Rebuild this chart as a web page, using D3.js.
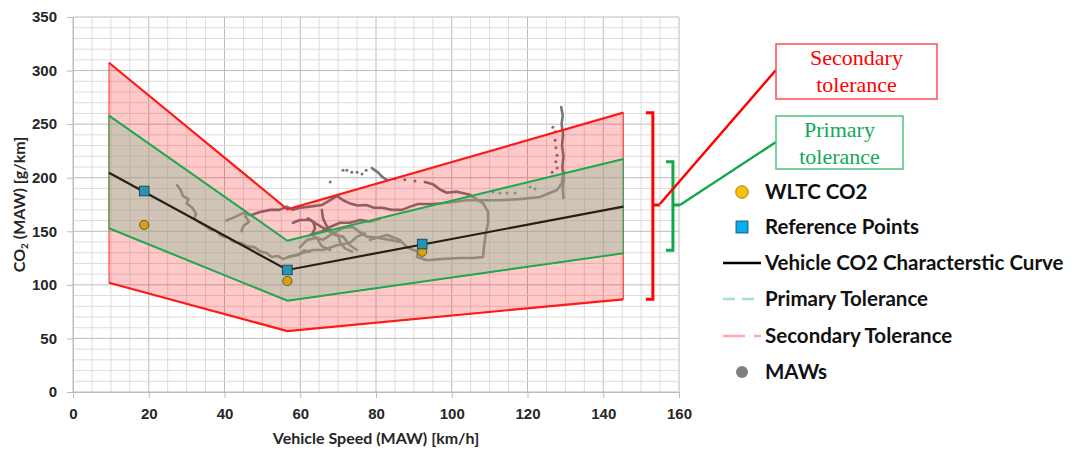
<!DOCTYPE html>
<html>
<head>
<meta charset="utf-8">
<script src="https://cdn.jsdelivr.net/npm/d3@7/dist/d3.min.js"></script>
<style>
  body { margin: 0; background: #fff; }
  svg { display: block; font-family: Lato, "Open Sans", sans-serif; }
</style>
</head>
<body>
<svg id="chart"></svg>
<script>
// band corners: left edge, kink, right edge
const bandSpeed = [9.5, 56.6, 145.3];
const co2Curve = [204.7, 113.9, 173.0];
const primaryUpper = [257.9, 141.2, 217.5];
const primaryLower = [152.8, 85.2, 129.4];
const secondaryUpper = [307.3, 170.5, 260.7];
const secondaryLower = [102.0, 56.9, 86.5];

const refSpeed = [18.8, 56.6, 92.2];
const refCo2 = [187.6, 113.9, 138.1];
const wltcCo2 = [155.9, 103.6, 130.9];

const mawTraces = [
    [[27.5, 193], [28.5, 188], [29.0, 183], [30.5, 180], [30.0, 176], [31.5, 172], [32.5, 166], [32.0, 162], [33.5, 158], [35.0, 155], [36.5, 151], [38.0, 150], [39.0, 146], [41.0, 144], [42.5, 140], [44.5, 139], [46.0, 136], [48.0, 135], [49.5, 131], [51.0, 130], [52.5, 126], [54.0, 127], [55.5, 124], [57.5, 127], [59.5, 128], [61.0, 132], [62.5, 131]],
    [[40.5, 160], [42.5, 163], [44.9, 167], [47.0, 165], [49.4, 168], [52.0, 170], [54.5, 170], [56.5, 173], [58.0, 170], [60.0, 172], [62.5, 173], [65.7, 174.5], [67.9, 179], [69.7, 183], [71.3, 179], [73.1, 176], [75.2, 174], [77.4, 174.5], [79.5, 172], [81.6, 172], [84.2, 170], [86.9, 170], [89.0, 173], [91.1, 175.5], [95.0, 175.5], [98.2, 176.4], [104.0, 179], [109.3, 179], [112.7, 179], [118.0, 180], [123.3, 182], [125.9, 185.7], [127.8, 188.5], [129.1, 195], [129.4, 205]],
    [[45.5, 164], [46.5, 159], [45.0, 155], [44.5, 150]],
    [[78.9, 209], [80.5, 205], [81.9, 200], [82.9, 198]],
    [[92.9, 196], [95.0, 194], [96.9, 189], [98.7, 186], [101.4, 187], [104.8, 184], [108.3, 176], [109.6, 168], [109.6, 158], [109.0, 148], [108.5, 135], [108.3, 126], [105.6, 125], [102.2, 125], [96.9, 124], [93.5, 123], [90.8, 126], [91.1, 131]],
    [[128.9, 266], [129.3, 258], [129.0, 250], [129.4, 240], [129.1, 230], [129.5, 220], [129.2, 210], [129.6, 200], [129.3, 190], [129.5, 181]],
    [[59.9, 135], [61.8, 142], [64.4, 144], [66.0, 142], [68.6, 148], [71.3, 153], [73.9, 154], [75.8, 149], [77.6, 145], [80.3, 144], [83.7, 142], [86.3, 140]],
    [[57.3, 126], [60.7, 130], [63.4, 132.5], [66.0, 132.5], [69.7, 137], [73.1, 139], [75.0, 145], [77.1, 148]],
    [[62.6, 146.5], [65.2, 149], [67.9, 154], [70.5, 158], [73.1, 158], [75.8, 160.5], [78.4, 159], [81.1, 162]],
    [[65.7, 170], [66.0, 162], [67.1, 154], [68.6, 149], [70.0, 146.5], [70.5, 140], [71.8, 134], [73.7, 131]],
    [[62.0, 162], [63.4, 159], [63.9, 153], [63.1, 147], [64.7, 142], [65.7, 136], [67.9, 132.5]],
    [[58.1, 158], [59.9, 160.5], [62.6, 160.5], [64.7, 156], [67.1, 151], [69.2, 146.5], [71.3, 145], [73.1, 137], [75.0, 132.5]],
    [[78.4, 142], [82.9, 146.5], [86.3, 142], [88.2, 135], [89.8, 132.5], [91.6, 131]]
];
const mawDots = [
    [67.9, 196], [71.3, 207], [72.3, 207], [73.6, 205], [75.0, 205], [76.3, 203.5], [77.4, 207],
    [85.0, 199], [87.6, 198], [90.3, 197], [110.9, 186.7], [112.7, 185.7], [114.6, 185.7], [116.7, 185.7],
    [120.7, 191.3], [122.0, 189.5], [127.3, 235], [127.5, 228], [127.8, 221], [127.5, 215], [127.8, 209],
    [126.7, 247], [127.3, 243], [126.5, 205]
];

const xTicks = [0, 20, 40, 60, 80, 100, 120, 140, 160];
const yTicks = [0, 50, 100, 150, 200, 250, 300, 350];

const legendItems = ['WLTC CO2', 'Reference Points', 'Vehicle CO2 Characterstic Curve',
    'Primary Tolerance', 'Secondary Tolerance', 'MAWs'];

const W = 1072, H = 449;
const margin = {top: 17, left: 73};
const width = 606, height = 375;

const svg = d3.select('#chart').attr('width', W).attr('height', H);
svg.append('rect').attr('width', W).attr('height', H).attr('fill', '#fff');

const x = d3.scaleLinear().domain([0, 160]).range([margin.left, margin.left + width]);
const y = d3.scaleLinear().domain([0, 350]).range([margin.top + height, margin.top]);

// gridlines
const grid = svg.append('g');
grid.selectAll('.vminor').data(d3.range(0, 161, 5)).enter().append('line')
    .attr('x1', d => x(d)).attr('x2', d => x(d))
    .attr('y1', y(350)).attr('y2', y(0))
    .attr('stroke', d => (d % 20 === 0 ? '#bcbcbc' : '#dcdcdc')).attr('stroke-width', 1);
grid.selectAll('.hminor').data(d3.range(0, 351, 10)).enter().append('line')
    .attr('x1', x(0)).attr('x2', x(160))
    .attr('y1', d => y(d)).attr('y2', d => y(d))
    .attr('stroke', d => (d % 50 === 0 ? '#bcbcbc' : '#dcdcdc')).attr('stroke-width', 1);

// axes
svg.append('g')
    .attr('transform', `translate(0,${y(0)})`)
    .call(d3.axisBottom(x).tickValues(xTicks).tickSize(6).tickPadding(10))
    .call(g => g.select('.domain').attr('stroke', '#bcbcbc'))
    .call(g => g.selectAll('.tick line').attr('stroke', '#bcbcbc'))
    .call(g => g.selectAll('text').attr('font-size', 15).attr('font-weight', 700).attr('fill', '#262626'));
svg.append('g')
    .attr('transform', `translate(${x(0)},0)`)
    .call(d3.axisLeft(y).tickValues(yTicks).tickSize(6).tickPadding(10))
    .call(g => g.select('.domain').attr('stroke', '#bcbcbc'))
    .call(g => g.selectAll('.tick line').attr('stroke', '#bcbcbc'))
    .call(g => g.selectAll('text').attr('font-size', 15).attr('font-weight', 700).attr('fill', '#262626'));

// MAW traces (under the bands so they pick up the tint)
const line = d3.line().x(d => x(d[0])).y(d => y(d[1]));
svg.append('g').selectAll('path').data(mawTraces).enter().append('path')
    .attr('d', line)
    .attr('fill', 'none')
    .attr('stroke', '#77777a')
    .attr('stroke-width', 2.6)
    .attr('stroke-linejoin', 'round')
    .attr('stroke-linecap', 'round');
svg.append('g').selectAll('circle').data(mawDots).enter().append('circle')
    .attr('cx', d => x(d[0])).attr('cy', d => y(d[1])).attr('r', 1.5)
    .attr('fill', '#77777a');

// tolerance bands
const band = (up, lo) => bandSpeed.map((s, i) => [s, up[i]])
    .concat(bandSpeed.map((s, i) => [s, lo[i]]).reverse());
svg.append('path')
    .attr('d', line(band(secondaryUpper, secondaryLower)) + 'Z')
    .attr('fill', '#ff0000').attr('fill-opacity', 0.21)
    .attr('stroke', '#ff3030').attr('stroke-width', 1);
svg.append('path')
    .attr('d', line(band(primaryUpper, primaryLower)) + 'Z')
    .attr('fill', '#94bea0').attr('fill-opacity', 0.45)
    .attr('stroke', '#22a852').attr('stroke-width', 1);

const pairs = ys => bandSpeed.map((s, i) => [s, ys[i]]);
[secondaryUpper, secondaryLower].forEach(s => {
    svg.append('path').attr('d', line(pairs(s)))
        .attr('fill', 'none').attr('stroke', '#ff1a1a').attr('stroke-width', 2.2);
});
[primaryUpper, primaryLower].forEach(s => {
    svg.append('path').attr('d', line(pairs(s)))
        .attr('fill', 'none').attr('stroke', '#1fa84f').attr('stroke-width', 2);
});
svg.append('path').attr('d', line(pairs(co2Curve)))
    .attr('fill', 'none').attr('stroke', '#231f1a').attr('stroke-width', 2.2);

// WLTC and reference points
svg.append('g').selectAll('circle').data(refSpeed).enter().append('circle')
    .attr('cx', d => x(d)).attr('cy', (d, i) => y(wltcCo2[i])).attr('r', 4.6)
    .attr('fill', '#d9a212').attr('stroke', '#4e3f14').attr('stroke-width', 0.8);
svg.append('g').selectAll('rect').data(refSpeed).enter().append('rect')
    .attr('x', d => x(d) - 4.8).attr('y', (d, i) => y(refCo2[i]) - 4.8)
    .attr('width', 9.6).attr('height', 9.6)
    .attr('fill', '#2595b5').attr('stroke', '#1c3f4c').attr('stroke-width', 0.9);

// axis titles
svg.append('text')
    .attr('x', x(80)).attr('y', 444)
    .attr('text-anchor', 'middle')
    .attr('font-size', 16).attr('font-weight', 700).attr('fill', '#262626')
    .text('Vehicle Speed (MAW) [km/h]');
const yTitle = svg.append('text')
    .attr('transform', `translate(25,${y(175)}) rotate(-90)`)
    .attr('text-anchor', 'middle')
    .attr('font-size', 16).attr('font-weight', 700).attr('fill', '#262626');
yTitle.append('tspan').text('CO');
yTitle.append('tspan').attr('font-size', 10).attr('dy', 3).text('2');
yTitle.append('tspan').attr('dy', -3).text(' (MAW) [g/km]');

// tolerance brackets + callouts
function bracket(xPos, top, bottom, colour) {
    const x0 = x(xPos), hook = 7;
    const mid = 205;
    svg.append('path')
        .attr('d', `M${x0 - hook},${y(top)}H${x0}V${y(bottom)}H${x0 - hook}M${x0},${mid}H${x0 + 7}`)
        .attr('fill', 'none').attr('stroke', colour).attr('stroke-width', 3);
    return [x0 + 7, mid];
}
const redTip = bracket(153.1, secondaryUpper[2], secondaryLower[2], '#ff0000');
const greenTip = bracket(158.4, primaryUpper[2] - 2.5, primaryLower[2] + 3, '#13a84a');

svg.append('line')
    .attr('x1', redTip[0]).attr('y1', redTip[1] - 1).attr('x2', 776).attr('y2', 70)
    .attr('stroke', '#ff0000').attr('stroke-width', 2.5);
svg.append('line')
    .attr('x1', greenTip[0]).attr('y1', greenTip[1]).attr('x2', 776).attr('y2', 142)
    .attr('stroke', '#13a84a').attr('stroke-width', 2.5);

function callout(x0, y0, w, h, lines, colour, border) {
    svg.append('rect')
        .attr('x', x0).attr('y', y0).attr('width', w).attr('height', h)
        .attr('fill', '#fff').attr('stroke', border).attr('stroke-width', 1.5);
    svg.append('g').selectAll('text').data(lines).enter().append('text')
        .attr('x', x0 + w / 2).attr('y', (d, i) => y0 + 21 + i * 27)
        .attr('text-anchor', 'middle')
        .attr('font-family', '"Liberation Serif", "DejaVu Serif", serif')
        .attr('font-size', 22)
        .attr('fill', colour)
        .text(d => d);
}
callout(776, 44, 161, 55, ['Secondary', 'tolerance'], '#ff0000', '#ff4d4d');
callout(776, 116, 127, 53, ['Primary', 'tolerance'], '#11a85a', '#4cc47c');

// legend
const legend = svg.append('g');
const rowY = [192, 227, 263, 299, 336, 372];
legend.selectAll('text').data(legendItems).enter().append('text')
    .attr('x', 765).attr('y', (d, i) => rowY[i]).attr('dy', '0.36em')
    .attr('font-size', 20.5).attr('font-weight', 700).attr('fill', '#111')
    .text(d => d);
legend.append('circle').attr('cx', 742).attr('cy', rowY[0]).attr('r', 6.3)
    .attr('fill', '#ffc000').attr('stroke', '#8a6d10').attr('stroke-width', 0.8);
legend.append('rect').attr('x', 736).attr('y', rowY[1] - 6).attr('width', 12).attr('height', 12)
    .attr('fill', '#00b0f0').attr('stroke', '#1f3f4f').attr('stroke-width', 0.8);
legend.append('line').attr('x1', 723).attr('x2', 761).attr('y1', rowY[2]).attr('y2', rowY[2])
    .attr('stroke', '#000').attr('stroke-width', 2.5);
legend.append('line').attr('x1', 723).attr('x2', 761).attr('y1', rowY[3]).attr('y2', rowY[3])
    .attr('stroke', '#a8e2c0').attr('stroke-width', 2.5).attr('stroke-dasharray', '12,7');
legend.append('line').attr('x1', 723).attr('x2', 761).attr('y1', rowY[4]).attr('y2', rowY[4])
    .attr('stroke', '#ffaaaa').attr('stroke-width', 2.5).attr('stroke-dasharray', '22,9');
legend.append('circle').attr('cx', 742).attr('cy', rowY[5]).attr('r', 6)
    .attr('fill', '#808080');
</script>
</body>
</html>
